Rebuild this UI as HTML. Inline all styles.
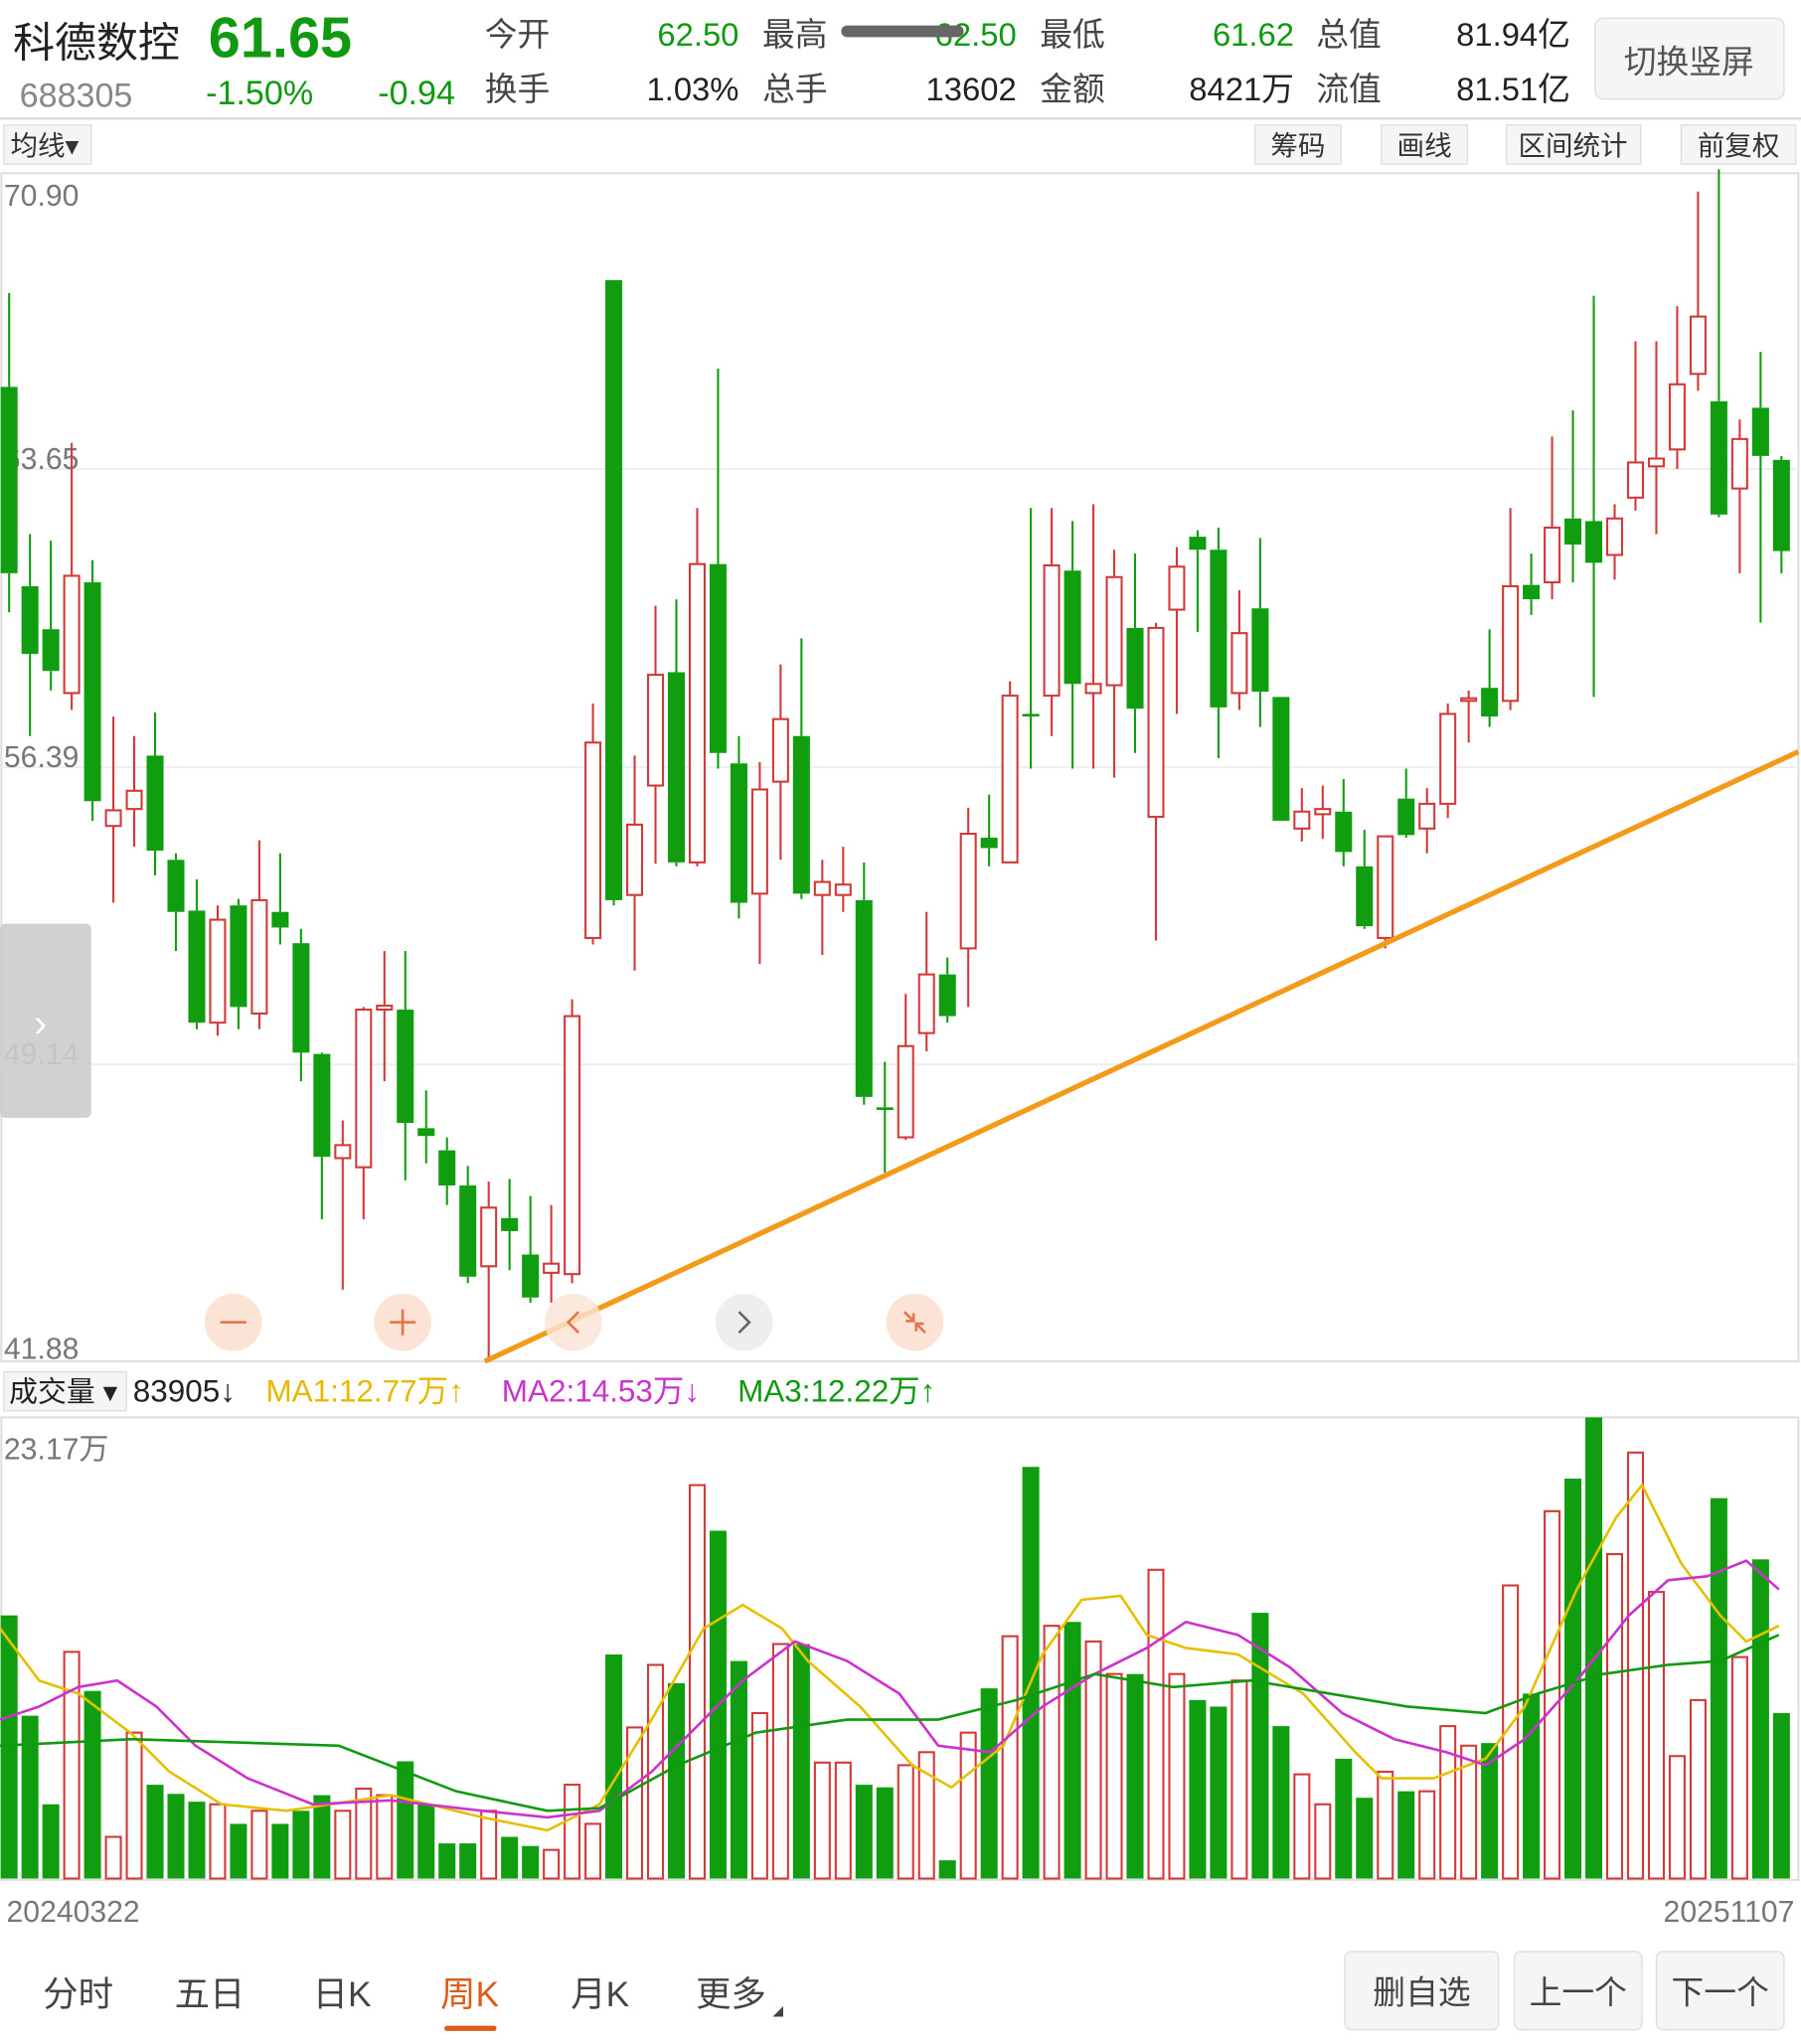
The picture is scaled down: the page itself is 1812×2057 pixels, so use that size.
<!DOCTYPE html>
<html><head><meta charset="utf-8">
<style>
html,body{margin:0;padding:0;background:#fff;}
body{width:1812px;height:2057px;overflow:hidden;}
svg{display:block;}
text{font-family:"Liberation Sans","Noto Sans CJK SC",sans-serif;}
</style></head>
<body>
<svg id="s" width="1812" height="2057" viewBox="0 0 1382 1569" preserveAspectRatio="none" xmlns="http://www.w3.org/2000/svg">
<rect width="1382" height="1569" fill="#fff"/>
<!-- header -->
<text x="10" y="44" font-size="32" fill="#222">科德数控</text>
<text x="160" y="44" font-size="44" font-weight="bold" fill="#119911">61.65</text>
<text x="15" y="82" font-size="26" fill="#888">688305</text>
<text x="158" y="80" font-size="26" fill="#119911">-1.50%</text>
<text x="290" y="80" font-size="26" fill="#119911">-0.94</text>
<g font-size="25">
<text x="372" y="35" fill="#444">今开</text><text x="567" y="35" fill="#119911" text-anchor="end">62.50</text>
<text x="585" y="35" fill="#444">最高</text><text x="780" y="35" fill="#119911" text-anchor="end">62.50</text>
<text x="798" y="35" fill="#444">最低</text><text x="993" y="35" fill="#119911" text-anchor="end">61.62</text>
<text x="1010" y="35" fill="#444">总值</text><text x="1205" y="35" fill="#222" text-anchor="end">81.94亿</text>
<text x="372" y="77" fill="#444">换手</text><text x="567" y="77" fill="#222" text-anchor="end">1.03%</text>
<text x="585" y="77" fill="#444">总手</text><text x="780" y="77" fill="#222" text-anchor="end">13602</text>
<text x="798" y="77" fill="#444">金额</text><text x="993" y="77" fill="#222" text-anchor="end">8421万</text>
<text x="1010" y="77" fill="#444">流值</text><text x="1205" y="77" fill="#222" text-anchor="end">81.51亿</text>
</g>
<line x1="650" y1="24" x2="735" y2="24" stroke="#666" stroke-width="9" stroke-linecap="round"/>
<rect x="1224" y="14" width="145" height="62" rx="6" fill="#f5f5f5" stroke="#ddd"/>
<text x="1296" y="56" font-size="25" fill="#555" text-anchor="middle">切换竖屏</text>
<line x1="0" y1="91" x2="1382" y2="91" stroke="#ddd" stroke-width="2"/>
<rect x="3" y="96" width="67" height="30" fill="#f5f5f5" stroke="#ddd"/>
<text x="8" y="119" font-size="21" fill="#333">均线▾</text>
<g font-size="21" fill="#333" text-anchor="middle">
<rect x="963" y="96" width="66" height="30" fill="#f5f5f5" stroke="#ddd"/><text x="996" y="119">筹码</text>
<rect x="1060" y="96" width="66" height="30" fill="#f5f5f5" stroke="#ddd"/><text x="1093" y="119">画线</text>
<rect x="1156" y="96" width="103" height="30" fill="#f5f5f5" stroke="#ddd"/><text x="1207" y="119">区间统计</text>
<rect x="1290" y="96" width="88" height="30" fill="#f5f5f5" stroke="#ddd"/><text x="1334" y="119">前复权</text>
</g>
<!-- chart box -->
<rect x="1" y="133" width="1379" height="912" fill="none" stroke="#ddd" stroke-width="1.5"/>
<g stroke="#eee" stroke-width="1.5"><line x1="0" y1="360" x2="1380" y2="360"/><line x1="0" y1="589" x2="1380" y2="589"/><line x1="0" y1="817" x2="1380" y2="817"/></g>
<g font-size="23" fill="#777"><text x="3" y="158">70.90</text><text x="3" y="360">63.65</text><text x="3" y="589">56.39</text><text x="3" y="817">49.14</text><text x="3" y="1043">41.88</text></g>
<g id="candles"></g>
<line x1="372" y1="1045" x2="1380" y2="577" stroke="#f39a1a" stroke-width="4"/>
<rect x="0" y="709" width="70" height="149" rx="4" fill="#ccc" opacity="0.9"/>
<text x="26" y="795" font-size="30" fill="#fff">›</text>
<g>
<circle cx="179" cy="1015" r="22" fill="#fbe3d6"/><line x1="169" y1="1015" x2="189" y2="1015" stroke="#e8754a" stroke-width="2"/>
<circle cx="309" cy="1015" r="22" fill="#fbe3d6"/><line x1="299" y1="1015" x2="319" y2="1015" stroke="#e8754a" stroke-width="2"/><line x1="309" y1="1005" x2="309" y2="1025" stroke="#e8754a" stroke-width="2"/>
<circle cx="440" cy="1015" r="22" fill="#fbe3d6" opacity="0.8"/><path d="M444 1007 L436 1015 L444 1023" fill="none" stroke="#e8754a" stroke-width="2"/>
<circle cx="571" cy="1015" r="22" fill="#eee"/><path d="M567 1007 L575 1015 L567 1023" fill="none" stroke="#666" stroke-width="2"/>
<circle cx="702" cy="1015" r="22" fill="#fbe3d6"/><path d="M694 1007 L701 1014 M701 1008 L701 1014 L695 1014 M710 1023 L703 1016 M703 1022 L703 1016 L709 1016" fill="none" stroke="#e8754a" stroke-width="2"/>
</g>
<!-- volume header -->
<rect x="3" y="1053" width="94" height="30" fill="#f5f5f5" stroke="#ddd"/>
<text x="7" y="1076" font-size="22" fill="#222">成交量 ▾</text>
<g font-size="24"><text x="102" y="1076" fill="#222">83905↓</text><text x="204" y="1076" fill="#e6b800">MA1:12.77万↑</text><text x="385" y="1076" fill="#cc33cc">MA2:14.53万↓</text><text x="566" y="1076" fill="#119911">MA3:12.22万↑</text></g>
<rect x="1" y="1088" width="1379" height="355" fill="none" stroke="#ddd" stroke-width="1.5"/>
<text x="3" y="1120" font-size="23" fill="#777">23.17万</text>
<g id="vols"></g>
<polyline fill="none" stroke="#e6c000" stroke-width="2" points="0,1250 30,1290 60,1300 100,1330 130,1360 170,1385 220,1390 300,1378 370,1395 420,1405 460,1385 500,1320 540,1250 570,1232 600,1250 620,1275 660,1310 700,1355 730,1372 770,1340 800,1270 830,1228 860,1225 880,1255 910,1265 950,1270 1000,1300 1040,1345 1060,1365 1100,1365 1140,1350 1170,1310 1210,1220 1240,1165 1260,1140 1290,1200 1320,1240 1340,1260 1365,1248"/>
<polyline fill="none" stroke="#cc33cc" stroke-width="2" points="0,1320 30,1310 60,1295 90,1290 120,1310 150,1340 190,1365 240,1385 300,1382 370,1390 420,1395 460,1390 500,1360 540,1320 570,1290 610,1260 650,1275 690,1300 720,1340 760,1345 800,1310 840,1285 880,1265 910,1245 950,1255 990,1280 1030,1315 1070,1335 1110,1345 1140,1355 1170,1335 1210,1290 1250,1240 1280,1213 1310,1210 1340,1198 1365,1220"/>
<polyline fill="none" stroke="#119911" stroke-width="2" points="0,1340 100,1335 260,1340 350,1375 420,1390 460,1388 520,1355 580,1330 650,1320 720,1320 780,1305 840,1285 900,1295 960,1290 1020,1300 1080,1310 1140,1315 1180,1300 1230,1285 1280,1278 1320,1275 1365,1255"/>
<text x="5" y="1475" font-size="23" fill="#777">20240322</text>
<text x="1377" y="1475" font-size="23" fill="#777" text-anchor="end">20251107</text>
<!-- bottom tabs -->
<g font-size="27" fill="#444">
<text x="33" y="1540">分时</text><text x="134" y="1540">五日</text><text x="240" y="1540">日K</text>
<text x="338" y="1540" fill="#e05a1a">周K</text><text x="438" y="1540">月K</text><text x="534" y="1540">更多</text>
</g>
<path d="M593 1548 L601 1540 L601 1548 Z" fill="#444"/>
<rect x="341" y="1555" width="40" height="4" rx="2" fill="#e05a1a"/>
<g font-size="25" fill="#444" text-anchor="middle">
<rect x="1032" y="1498" width="118" height="60" rx="5" fill="#f5f5f5" stroke="#ddd"/><text x="1091" y="1538">删自选</text>
<rect x="1162" y="1498" width="98" height="60" rx="5" fill="#f5f5f5" stroke="#ddd"/><text x="1211" y="1538">上一个</text>
<rect x="1271" y="1498" width="98" height="60" rx="5" fill="#f5f5f5" stroke="#ddd"/><text x="1320" y="1538">下一个</text>
</g>
</svg>
<script>
var C=[
['g',297,440,225,470],['g',450,502,410,565],['g',483,515,415,530],['r',442,532,340,545],['g',447,615,430,630],
['r',622,634,550,693],['r',607,621,565,650],['g',580,653,547,672],['g',660,700,655,730],['g',699,785,675,790],
['r',706,785,695,795],['g',695,773,690,790],['r',691,778,645,790],['g',700,712,655,725],['g',724,808,713,830],
['g',809,888,808,936],['r',879,889,860,990],['r',775,896,773,936],['r',772,775,730,830],['g',775,862,730,906],
['g',866,872,837,893],['g',883,910,873,925],['g',910,980,895,985],['r',927,972,907,1045],['g',935,945,905,975],
['g',963,996,918,1000],['r',970,977,925,1000],['r',780,978,767,985],['r',570,720,540,725],['g',215,691,215,695],
['r',633,687,580,745],['r',518,603,465,663],['g',516,662,460,665],['r',433,662,390,665],['g',433,578,283,590],
['g',586,693,565,705],['r',606,686,585,740],['r',552,600,510,660],['g',565,686,490,690],['r',677,687,660,733],
['r',679,687,650,700],['g',691,842,662,848],['g',850,852,815,900],['r',803,873,763,875],['r',748,793,700,807],
['g',748,780,735,785],['r',640,728,620,773],['g',643,651,610,665],['r',534,662,523,662],['g',548,550,390,590],
['r',434,534,390,565],['g',438,525,400,590],['r',525,532,387,590],['r',443,526,422,597],['g',482,544,425,578],
['r',482,627,478,722],['r',435,468,420,548],['g',412,422,407,485],['g',422,543,405,582],['r',486,532,453,545],
['g',467,531,413,558],['g',535,630,535,630],['r',623,636,605,646],['r',621,625,603,644],['g',623,654,598,665],
['g',665,711,637,713],['r',642,720,642,728],['g',613,641,590,643],['r',617,636,605,655],['r',548,617,540,628],
['r',536,538,530,570],['g',528,550,483,558],['r',450,538,390,545],['g',449,460,425,472],['r',405,447,335,460],
['g',398,418,315,447],['g',400,432,227,535],['r',398,426,387,445],['r',355,382,262,392],['r',352,358,262,410],
['r',295,345,235,360],['r',243,287,147,300],['g',308,395,130,397],['r',337,375,322,440],['g',313,350,270,478],
['g',353,423,350,440]];
var V=[1240,1317,1385,1268,1298,1410,1330,1370,1377,1383,1385,1400,1390,1400,1390,1378,1390,1373,1378,1352,1385,1415,1415,1390,1410,1417,1420,1370,1400,1270,1326,1278,1292,1140,1175,1275,1315,1262,1262,1353,1353,1370,1372,1355,1345,1428,1330,1296,1256,1126,1248,1245,1260,1285,1285,1205,1285,1305,1310,1290,1238,1325,1362,1385,1350,1380,1360,1375,1375,1325,1340,1338,1217,1300,1160,1135,1088,1193,1115,1222,1348,1305,1150,1272,1197,1315];
var ns='http://www.w3.org/2000/svg',cg=document.getElementById('candles'),vg=document.getElementById('vols');
function el(p,t,a){var e=document.createElementNS(ns,t);for(var k in a)e.setAttribute(k,a[k]);p.appendChild(e);}
var RED='#d23a3a',GRN='#109e10';
C.forEach(function(c,i){var x=7+i*16.0,w=13,col=c[0]=='r'?RED:GRN;
 var t=Math.min(c[1],c[2]),b=Math.max(c[1],c[2]);if(b-t<2)b=t+2;
 el(cg,'line',{x1:x,x2:x,y1:c[3],y2:t,stroke:col,'stroke-width':1.6});
 el(cg,'line',{x1:x,x2:x,y1:b,y2:c[4],stroke:col,'stroke-width':1.6});
 if(c[0]=='r')el(cg,'rect',{x:x-w/2+0.8,y:t,width:w-1.6,height:b-t,fill:'#fff',stroke:col,'stroke-width':1.6});
 else el(cg,'rect',{x:x-w/2,y:t,width:w,height:b-t,fill:col});
 var vt=V[i];
 if(c[0]=='r')el(vg,'rect',{x:x-w/2+0.8,y:vt,width:w-1.6,height:1442-vt,fill:'#fff',stroke:col,'stroke-width':1.6});
 else el(vg,'rect',{x:x-w/2,y:vt,width:w,height:1442-vt,fill:col});
});
</script>
</body></html>
